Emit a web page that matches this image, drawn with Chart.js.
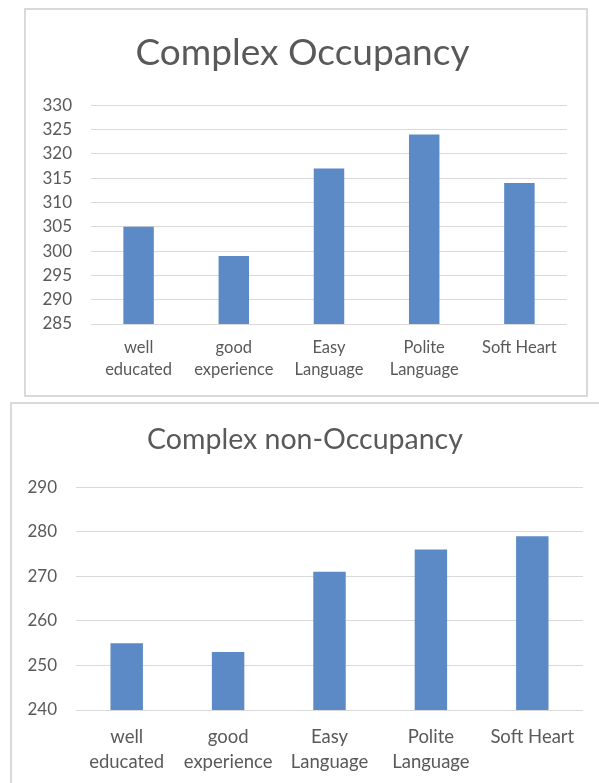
<!DOCTYPE html>
<html>
<head>
<meta charset="utf-8">
<script src="https://cdn.jsdelivr.net/npm/chart.js@4/dist/chart.umd.min.js"></script>
<style>
  html, body { margin: 0; padding: 0; background: #ffffff; overflow: hidden; }
  body { width: 599px; height: 783px; position: relative; }
  .box { position: absolute; border: 2px solid #d9d9d9; box-sizing: border-box; background: #fff; }
  #box1 { left: 24px; top: 8px; width: 564px; height: 389px; }
  #box2 { left: 10px; top: 402px; width: 600px; height: 400px; }
  canvas { display: block; }
</style>
</head>
<body>
<div class="box" id="box1"><canvas id="occupancy" width="560" height="385"></canvas></div>
<div class="box" id="box2"><canvas id="nonOccupancy" width="587" height="379"></canvas></div>
<script>
const categories = [['well', 'educated'], ['good', 'experience'], ['Easy', 'Language'], ['Polite', 'Language'], 'Soft Heart'];
const occupancyValues = [305, 299, 317, 324, 314];
const nonOccupancyValues = [255, 253, 271, 276, 279];
const occupancyTicks = [285, 290, 295, 300, 305, 310, 315, 320, 325, 330];
const nonOccupancyTicks = [240, 250, 260, 270, 280, 290];

const FONT = 'Lato';
const TEXT = '#595959';
const BAR = '#5b8ac6';

function makeChart(id, title, values, ticks, opt) {
    const ctx = document.getElementById(id).getContext('2d');
    return new Chart(ctx, {
        type: 'bar',
        data: {
            labels: categories,
            datasets: [{
                data: values,
                backgroundColor: BAR,
                borderWidth: 0,
                barPercentage: 0.32,
                categoryPercentage: 1
            }]
        },
        options: {
            responsive: false,
            animation: false,
            devicePixelRatio: 1,
            layout: { padding: { left: 0, right: opt.right, top: 0, bottom: 0 } },
            plugins: {
                legend: { display: false },
                tooltip: { enabled: false },
                title: {
                    display: true,
                    text: title,
                    color: TEXT,
                    font: { family: FONT, size: opt.titleSize, weight: 'normal', lineHeight: 1.2 },
                    padding: { top: opt.titleTop, bottom: opt.titleBottom }
                }
            },
            scales: {
                x: {
                    grid: { display: false, drawTicks: false },
                    border: { display: false },
                    ticks: {
                        color: TEXT,
                        maxRotation: 0,
                        autoSkip: false,
                        padding: opt.xPad,
                        font: { family: FONT, size: opt.xSize, lineHeight: opt.xLine }
                    },
                    afterFit: (scale) => { scale.height = opt.xHeight; }
                },
                y: {
                    min: ticks[0],
                    max: ticks[ticks.length - 1],
                    grid: { color: '#d9d9d9', lineWidth: 1, drawTicks: false },
                    border: { display: false },
                    ticks: {
                        stepSize: ticks[1] - ticks[0],
                        color: TEXT,
                        padding: 19,
                        font: { family: FONT, size: 17 }
                    },
                    afterFit: (scale) => { scale.width = opt.yWidth; }
                },
                // empty right-hand spacer, keeps the title centred on the whole box
                spacer: {
                    type: 'linear',
                    position: 'right',
                    grid: { display: false, drawTicks: false },
                    border: { display: false },
                    ticks: { display: false },
                    afterFit: (scale) => { scale.width = opt.spacer; }
                }
            }
        }
    });
}

makeChart('occupancy', 'Complex Occupancy', occupancyValues, occupancyTicks, {
    right: 7, spacer: 12, titleSize: 37, titleTop: 20.5, titleBottom: 30.5,
    xSize: 16.5, xLine: 1.33, xPad: 13, xHeight: 71, yWidth: 65
});

makeChart('nonOccupancy', 'Complex non-Occupancy', nonOccupancyValues, nonOccupancyTicks, {
    right: 1, spacer: 15, titleSize: 28.5, titleTop: 19, titleBottom: 30,
    xSize: 18.5, xLine: 1.35, xPad: 15, xHeight: 73, yWidth: 64
});
</script>
</body>
</html>
